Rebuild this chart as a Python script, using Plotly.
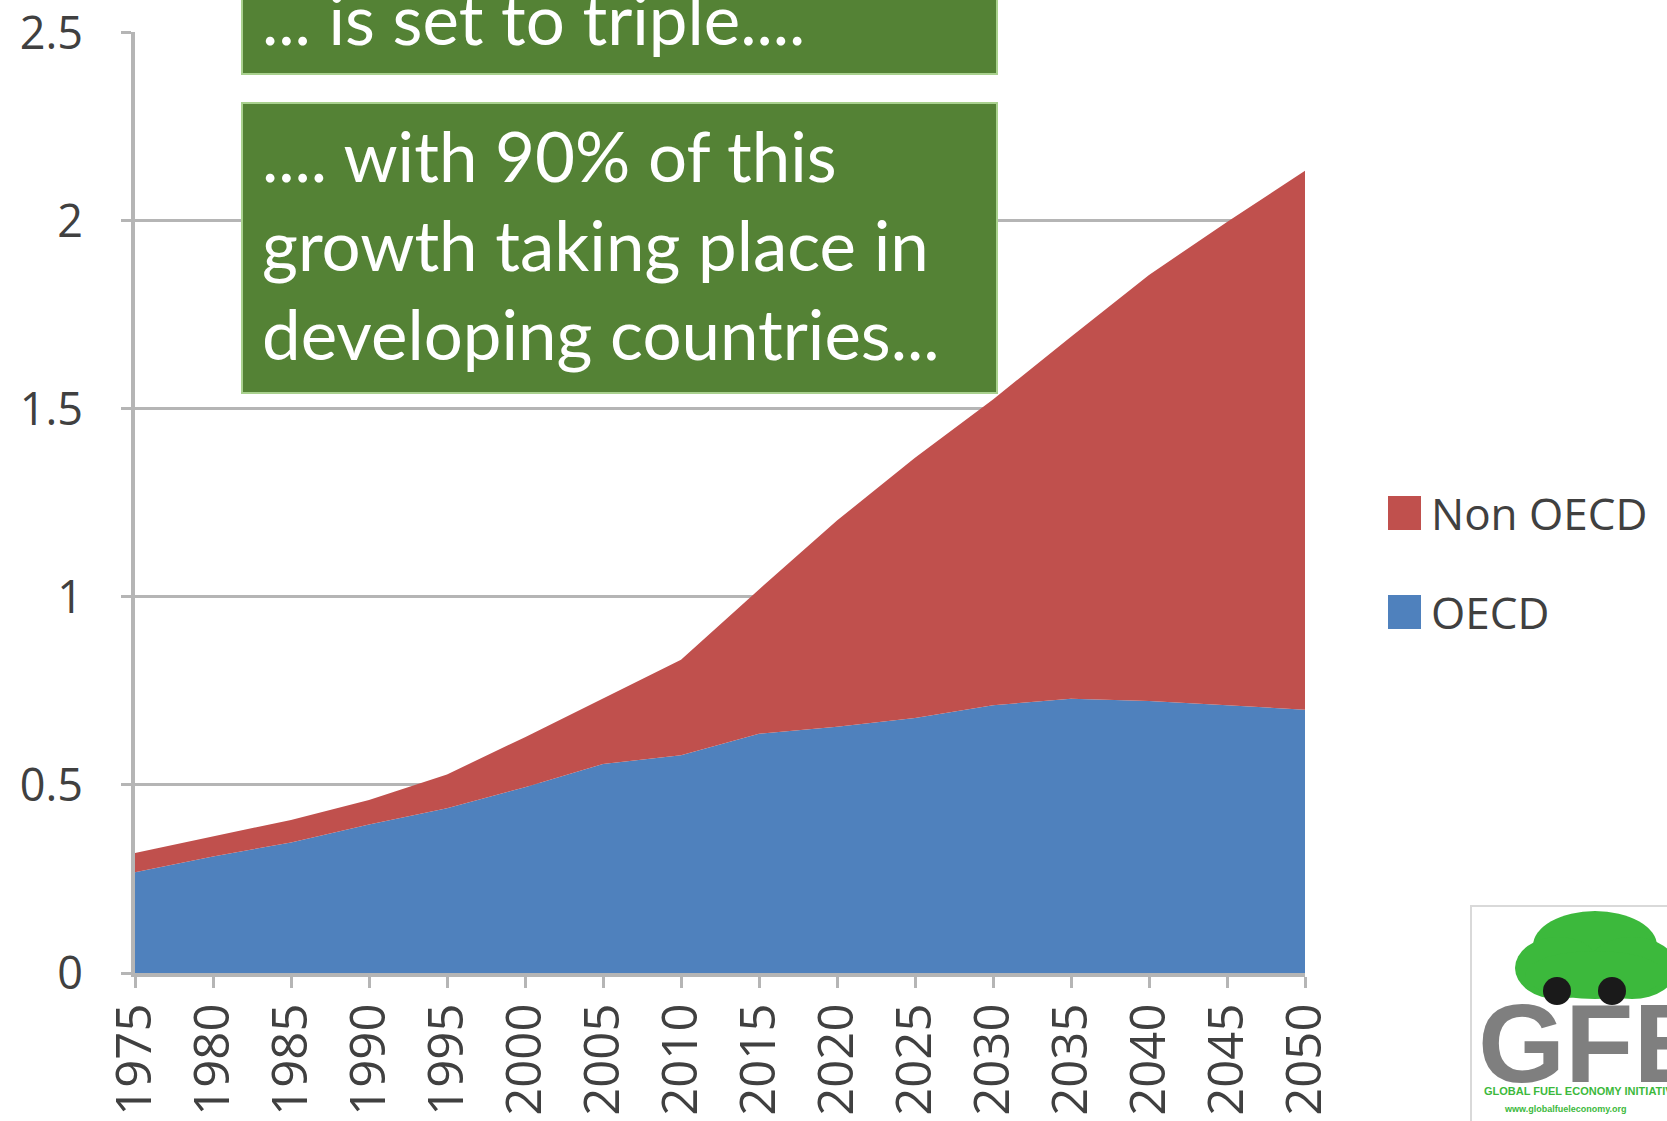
import plotly.graph_objects as go

W, H = 1667, 1121
OFF = 0  # body margin removed via post_script
L, R, T, B = 135, 1305, 32, 973  # plot area in screen pixels

years = [1975, 1980, 1985, 1990, 1995, 2000, 2005, 2010, 2015, 2020, 2025, 2030, 2035, 2040, 2045, 2050]
oecd = [0.268, 0.31, 0.347, 0.395, 0.438, 0.494, 0.556, 0.579, 0.636, 0.655, 0.678, 0.712, 0.729, 0.723, 0.712, 0.70]
total = [0.319, 0.362, 0.407, 0.46, 0.528, 0.627, 0.729, 0.833, 1.02, 1.203, 1.37, 1.525, 1.692, 1.856, 1.997, 2.133]
non_oecd = [round(t - o, 3) for t, o in zip(total, oecd)]
series_names = ["OECD", "Non OECD"]
y_ticks = [0, 0.5, 1, 1.5, 2, 2.5]
y_tick_text = ["0", "0.5", "1", "1.5", "2", "2.5"]
box1_text = "... is set to triple...."
box2_lines = [".... with 90% of this", "growth taking place in", "developing countries..."]

BLUE = "#4F81BD"
RED = "#C0504D"
GREEN = "#548235"
GRID = "#B5B5B5"
TXT = "#404040"


def px(x):
    return (x - L) / (R - L)


def py(y):
    return (B - y) / (B - T)


fig = go.Figure()
fig.add_trace(go.Scatter(x=years, y=oecd, name=series_names[0], mode="lines",
                         stackgroup="one", line=dict(width=0, color=BLUE),
                         fillcolor=BLUE, showlegend=False, hoverinfo="skip"))
fig.add_trace(go.Scatter(x=years, y=non_oecd, name=series_names[1], mode="lines",
                         stackgroup="one", line=dict(width=0, color=RED),
                         fillcolor=RED, showlegend=False, hoverinfo="skip"))

font_main = "Lato, 'Open Sans', sans-serif"

shapes = []
annotations = []

# green text boxes
shapes.append(dict(type="rect", xref="paper", yref="paper", x0=px(242), x1=px(997),
                   y0=py(74), y1=py(-20), fillcolor=GREEN, line=dict(color="#A9D18E", width=2), layer="above"))
shapes.append(dict(type="rect", xref="paper", yref="paper", x0=px(242), x1=px(997),
                   y0=py(393), y1=py(103), fillcolor=GREEN, line=dict(color="#A9D18E", width=2), layer="above"))
annotations.append(dict(xref="paper", yref="paper", x=px(260), y=py(18), xanchor="left", yanchor="middle",
                        text=box1_text, showarrow=False, font=dict(size=69, color="white", family=font_main)))
for i, line in enumerate(box2_lines):
    annotations.append(dict(xref="paper", yref="paper", x=px(260), y=py(155 + i * 89), xanchor="left",
                            yanchor="middle", text=line, showarrow=False,
                            font=dict(size=69, color="white", family=font_main)))

# legend (manual)
leg = [(series_names[1], RED, 513), (series_names[0], BLUE, 612)]
for name, col, yc in leg:
    shapes.append(dict(type="rect", xref="paper", yref="paper", x0=px(1388), x1=px(1421),
                       y0=py(yc + 17), y1=py(yc - 17), fillcolor=col, line=dict(width=0)))
    annotations.append(dict(xref="paper", yref="paper", x=px(1429), y=py(yc), xanchor="left",
                            yanchor="middle", text=name, showarrow=False,
                            font=dict(size=44, color=TXT, family="'Open Sans', sans-serif")))

# logo
shapes.append(dict(type="rect", xref="paper", yref="paper", x0=px(1471), x1=px(1690),
                   y0=py(1130), y1=py(906), fillcolor="white", line=dict(color="#D9D9D9", width=2)))
for (cx, cy, rx, ry) in [(1595, 946, 62, 35), (1558, 968, 43, 31), (1632, 968, 45, 31), (1595, 975, 70, 24)]:
    shapes.append(dict(type="circle", xref="paper", yref="paper", x0=px(cx - rx), x1=px(cx + rx),
                       y0=py(cy + ry), y1=py(cy - ry), fillcolor="#3CB93C", line=dict(width=0)))
for cx in [1557, 1612]:
    shapes.append(dict(type="circle", xref="paper", yref="paper", x0=px(cx - 14), x1=px(cx + 14),
                       y0=py(1005), y1=py(977), fillcolor="#1A1A1A", line=dict(width=0)))
annotations.append(dict(xref="paper", yref="paper", x=px(1476), y=py(1043), xanchor="left", yanchor="middle",
                        text="<b>GFEI</b>", showarrow=False,
                        font=dict(size=112, color="#7F7F7F", family="'Liberation Sans', Arial, sans-serif")))
annotations.append(dict(xref="paper", yref="paper", x=px(1482), y=py(1091), xanchor="left", yanchor="middle",
                        text="<b>GLOBAL FUEL ECONOMY INITIATIVE</b>", showarrow=False,
                        font=dict(size=11, color="#3CB93C", family="'Liberation Sans', Arial, sans-serif")))
annotations.append(dict(xref="paper", yref="paper", x=px(1502), y=py(1109), xanchor="left", yanchor="middle",
                        text="<b>www.globalfueleconomy.org</b>", showarrow=False,
                        font=dict(size=9, color="#3CB93C", family="'Liberation Sans', Arial, sans-serif")))

fig.update_layout(
    width=W, height=H,
    margin=dict(l=L - OFF, r=W - (R - OFF), t=T - OFF, b=H - (B - OFF), pad=0, autoexpand=False),
    paper_bgcolor="white", plot_bgcolor="white",
    showlegend=False,
    shapes=shapes, annotations=annotations,
    xaxis=dict(range=[1975, 2050], tickvals=years, ticktext=[str(y) for y in years],
               tickangle=-90, ticks="outside", ticklen=11, tickwidth=3, tickcolor=GRID,
               showline=True, linecolor=GRID, linewidth=4, showgrid=False, zeroline=False,
               automargin=False,
               tickfont=dict(size=49, color=TXT, family="'Open Sans', sans-serif"),
               ticklabelstandoff=-4),
    yaxis=dict(range=[0, 2.502], tickvals=y_ticks, ticktext=y_tick_text,
               ticks="outside", ticklen=10, tickwidth=3, tickcolor=GRID,
               showline=True, linecolor=GRID, linewidth=4, showgrid=True, gridcolor=GRID, gridwidth=3,
               zeroline=False, automargin=False, ticklabeloverflow="allow",
               tickfont=dict(size=45, color=TXT, family="'Open Sans', sans-serif"),
               ticklabelstandoff=29),
)

fig.write_html("out.html", config={"displayModeBar": False, "staticPlot": True},
               post_script="document.body.style.margin='0';")
